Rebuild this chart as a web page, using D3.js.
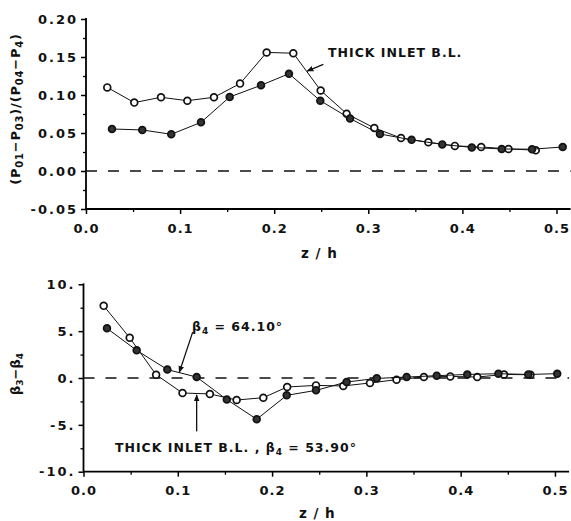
<!DOCTYPE html>
<html><head><meta charset="utf-8">
<script src="https://cdn.jsdelivr.net/npm/d3@7"></script>
<style>
body{margin:0;background:#fff;}
svg text{font-family:"DejaVu Sans",sans-serif;font-weight:bold;fill:#111;}
</style></head>
<body><svg id="c" width="571" height="521"></svg>
<script>
// ---- data ----
// top panel: (P01-P03)/(P04-P4) vs z/h
const topThickX = [0.0226,0.0513,0.0797,0.1077,0.136,0.1637,0.192,0.2203,0.2494,0.277,0.3064,0.3348,0.3638,0.392,0.42,0.449,0.478];
const topThickY = [0.110,0.090,0.097,0.0925,0.097,0.115,0.156,0.155,0.106,0.0754,0.0566,0.0434,0.0378,0.033,0.0316,0.029,0.0274];
const topThinX  = [0.0276,0.0598,0.0906,0.1222,0.1527,0.186,0.2157,0.249,0.2806,0.3124,0.346,0.3786,0.41,0.4418,0.474,0.5066];
const topThinY  = [0.0553,0.054,0.0483,0.064,0.0974,0.1128,0.128,0.0925,0.069,0.0487,0.041,0.035,0.031,0.029,0.0287,0.0316];
// bottom panel: beta3 - beta4 vs z/h
const botThickX = [0.0214,0.049,0.077,0.105,0.134,0.1624,0.1907,0.216,0.2466,0.2755,0.3038,0.332,0.361,0.389,0.4176,0.446,0.474];
const botThickY = [7.7,4.3,0.35,-1.6,-1.7,-2.35,-2.1,-0.96,-0.79,-0.85,-0.53,-0.18,0.1,0.17,0.1,0.38,0.35];
const botThinX  = [0.0249,0.0564,0.0889,0.12,0.152,0.1837,0.2155,0.2466,0.279,0.311,0.3427,0.3746,0.407,0.44,0.4717,0.5024];
const botThinY  = [5.3,2.95,0.9,0.1,-2.3,-4.4,-1.85,-1.32,-0.43,-0.04,0.1,0.25,0.38,0.46,0.38,0.46];
// tick labels
const xTicks = [0,0.1,0.2,0.3,0.4,0.5];
const xTickLabels = ["0.0","0.1","0.2","0.3","0.4","0.5"];
const topYTicks = [-0.05,0,0.05,0.10,0.15,0.20];
const topYTickLabels = ["-0.05","0.00","0.05","0.10","0.15","0.20"];
const botYTicks = [-10,-5,0,5,10];
const botYTickLabels = ["-10.","-5.","0.","5.","10."];

const svg = d3.select("#c");
const defs = svg.append("defs");
defs.append("marker").attr("id","ah").attr("viewBox","0 0 10 10").attr("refX",9).attr("refY",5)
  .attr("markerWidth",7).attr("markerHeight",7).attr("markerUnits","userSpaceOnUse").attr("orient","auto")
  .append("path").attr("d","M0,1 L10,5 L0,9 Z").attr("fill","#111");

function panel(o){
  const x = d3.scaleLinear().domain([0,0.515]).range(o.xr);
  const y = d3.scaleLinear().domain(o.yd).range(o.yr);
  const g = svg.append("g");
  // axes
  const xa = g.append("g").attr("transform",`translate(0,${o.yr[0]})`)
    .call(d3.axisBottom(x).tickValues(xTicks).tickSize(5).tickFormat((d,i)=>xTickLabels[i]));
  xa.select(".domain").attr("d",`M${o.xr[0]},0H${o.xr[1]}`).attr("stroke-width",1.8);
  xa.selectAll(".tick line").attr("stroke-width",1.5);
  xa.selectAll(".tick text").attr("dy","1.2em").attr("font-size",13).attr("letter-spacing","1px");
  g.append("g").attr("transform",`translate(0,${o.yr[0]})`)
    .call(d3.axisBottom(x).tickValues([0.05,0.15,0.25,0.35,0.45]).tickSize(3).tickFormat(""))
    .call(s=>{s.select(".domain").remove(); s.selectAll("line").attr("stroke-width",1.3);});
  const ya = g.append("g").attr("transform",`translate(${o.xr[0]},0)`)
    .call(d3.axisLeft(y).tickValues(o.yt).tickSize(5).tickFormat((d,i)=>o.ytl[i]));
  ya.select(".domain").attr("d",`M0,${o.yr[0]}V${o.yr[1]-1}`).attr("stroke-width",1.8);
  ya.selectAll(".tick line").attr("stroke-width",1.5);
  ya.selectAll(".tick text").attr("font-size",13).attr("letter-spacing","2px").attr("dx","0");
  g.append("g").attr("transform",`translate(${o.xr[0]},0)`)
    .call(d3.axisLeft(y).tickValues(o.ym).tickSize(3).tickFormat(""))
    .call(s=>{s.select(".domain").remove(); s.selectAll("line").attr("stroke-width",1.3);});
  g.selectAll(".tick text").attr("fill","#111").attr("font-family","DejaVu Sans").attr("font-weight","bold");
  // zero dashed line
  g.append("line").attr("x1",x(0)).attr("x2",x(0.515)).attr("y1",y(0)).attr("y2",y(0))
    .attr("stroke","#111").attr("stroke-width",1.6).attr("stroke-dasharray","11,11");
  const line = d3.line().x(d=>x(d[0])).y(d=>y(d[1]));
  [[o.ax,o.ay,"#fff"],[o.bx,o.by,"#333"]].forEach(([xs,ys,fill])=>{
    const pts = xs.map((v,i)=>[v,ys[i]]);
    g.append("path").attr("d",line(pts)).attr("fill","none").attr("stroke","#111").attr("stroke-width",1);
    g.selectAll(null).data(pts).enter().append("circle")
      .attr("cx",d=>x(d[0])).attr("cy",d=>y(d[1])).attr("r",3.4)
      .attr("fill",fill).attr("stroke","#111").attr("stroke-width",1.7);
  });
  // x label
  g.append("text").attr("x",x(0.248)).attr("y",o.zy).attr("text-anchor","middle")
    .attr("font-size",13.5).attr("letter-spacing","1px").text("z / h");
  return {x,y,g};
}

const topP = panel({xr:[86,570.6], yd:[-0.05,0.20], yr:[209,19], yt:topYTicks, ytl:topYTickLabels,
  ym:[-0.025,0.025,0.075,0.125,0.175], ax:topThickX, ay:topThickY, bx:topThinX, by:topThinY, zy:258});
const botP = panel({xr:[83.5,569.1], yd:[-10,10], yr:[471.7,284.3], yt:botYTicks, ytl:botYTickLabels,
  ym:[-7.5,-2.5,2.5,7.5], ax:botThickX, ay:botThickY, bx:botThinX, by:botThinY, zy:518});

// y labels
const yl1 = svg.append("text").attr("transform","translate(20,109) rotate(-90)").attr("text-anchor","middle")
  .attr("font-size",13).attr("letter-spacing","0.8px");
[["(P",0],["01",1],["\u2212P",0],["03",1],[")/(P",0],["04",1],["\u2212P",0],["4",1],[")",0]].forEach(([t,s])=>{
  yl1.append("tspan").attr("font-size",s?10:13).attr("baseline-shift",s?"-3":null).text(t);
});
const yl2 = svg.append("text").attr("transform","translate(20,374) rotate(-90)").attr("text-anchor","middle")
  .attr("font-size",13);
[["\u03B2",0],["3",1],["\u2212\u03B2",0],["4",1]].forEach(([t,s])=>{
  yl2.append("tspan").attr("font-size",s?9:13).attr("baseline-shift",s?"-3":null).text(t);
});

// annotations
const ann = (p)=>p.g.append("text").attr("font-size",12.5).attr("letter-spacing","1px");
ann(topP).attr("x",topP.x(0.2572)).attr("y",topP.y(0.150)).text("THICK INLET B.L.");
topP.g.append("line").attr("x1",topP.x(0.2522)).attr("y1",topP.y(0.1404)).attr("x2",topP.x(0.235)).attr("y2",topP.y(0.1315))
  .attr("stroke","#111").attr("stroke-width",1.3).attr("marker-end","url(#ah)");

const t2 = ann(botP).attr("x",botP.x(0.115)).attr("y",botP.y(5.05));
t2.append("tspan").text("\u03B2");
t2.append("tspan").attr("font-size",9).attr("baseline-shift","-3").text("4");
t2.append("tspan").text(" = 64.10\u00B0");
botP.g.append("line").attr("x1",botP.x(0.1158)).attr("y1",botP.y(4.9)).attr("x2",botP.x(0.1016)).attr("y2",botP.y(0.6))
  .attr("stroke","#111").attr("stroke-width",1.3).attr("marker-end","url(#ah)");

const t3 = ann(botP).attr("x",botP.x(0.0334)).attr("y",botP.y(-7.87));
t3.append("tspan").text("THICK INLET B.L. , \u03B2");
t3.append("tspan").attr("font-size",9).attr("baseline-shift","-3").text("4");
t3.append("tspan").text(" = 53.90\u00B0");
botP.g.append("line").attr("x1",botP.x(0.12)).attr("y1",botP.y(-5.7)).attr("x2",botP.x(0.12)).attr("y2",botP.y(-1.8))
  .attr("stroke","#111").attr("stroke-width",1.3).attr("marker-end","url(#ah)");
</script></body></html>
